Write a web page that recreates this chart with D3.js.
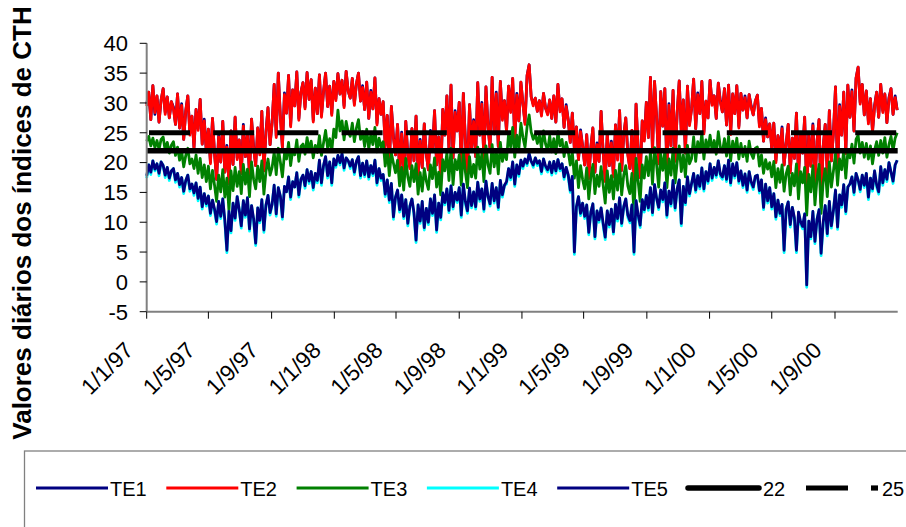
<!DOCTYPE html>
<html>
<head>
<meta charset="utf-8">
<script src="https://cdn.jsdelivr.net/npm/d3@7"></script>
<style>
  html, body { margin: 0; padding: 0; background: #fff; }
  svg { display: block; font-family: Arial, "Liberation Sans", sans-serif; }
</style>
</head>
<body>
<svg id="chart" width="906" height="527"></svg>
<script>
// Daily comfort indices, sampled every 4 days from 1 Jan 1997 (one line per year)
const startDate = "1997-01-01";
const sampleStepDays = 4;

const te1 = [
  29.8,31.8,27.2,32.9,28.1,31.2,26.8,30.5, 32.4,28.4,31.0,27.5,30.2,29.3,26.4, 31.5,25.8,29.9,23.9,28.7,31.2,24.9,27.8, 22.5,28.9,25.7,30.6,23.1,27.3,21.8, 25.6,20.1,27.4,21.5,17.2,24.6,20.1,26.9, 18.4,22.9,16.5,25.3,19.7,27.6,20.8, 23.8,18.2,26.4,21.0,24.7,17.9,27.3,22.7, 19.5,25.8,21.6,28.6,18.6,25.2,29.2,23.0, 26.7,33.1,24.5,35.0,27.8,22.6,31.7, 28.3,34.6,26.3,32.2,29.5,35.2,27.4,31.8, 33.4,29.3,35.1,30.6,33.9,27.1,32.5, 28.2,34.7,27.9,31.9,35.0,29.4,32.8,28.2,33.6,
  30.7,34.9,31.5,33.8,29.5,35.3,32.0,30.8, 34.1,29.9,33.2,35.0,30.3,32.9,28.9, 33.5,27.4,32.1,29.0,34.2,26.6,30.7,28.1, 30.2,22.9,27.9,19.5,29.4,24.4,21.3, 26.4,18.6,25.1,17.5,26.9,21.2,19.3,25.7, 20.3,27.8,17.9,23.9,19.2,26.5,21.4, 18.8,25.4,22.0,28.7,19.6,24.3,17.5,28.9, 24.6,31.2,22.4,33.0,20.8,28.7,25.3,30.1, 19.4,31.6,23.8,17.8,29.7,22.4,27.2, 21.0,33.4,24.6,30.1,20.5,32.7,26.2,22.3, 34.3,24.8,31.8,22.7,33.6,27.4,30.4, 25.2,32.8,28.7,34.1,23.6,31.6,27.0,33.5,
  29.8,26.7,34.6,36.4,31.0,29.8,30.8,28.6, 30.4,28.1,31.6,29.1,28.3,30.5,27.4, 31.2,26.8,33.1,28.8,30.7,25.9,29.7,27.2, 23.4,28.3,22.4,26.0,20.5,25.5,22.8, 19.6,24.7,17.6,22.5,25.8,18.4,23.3,20.2, 28.6,21.7,17.1,24.9,19.5,23.6,17.6, 26.3,20.7,28.7,18.7,24.5,27.5,21.5,19.0, 25.4,15.2,29.8,22.6,17.5,27.0,23.9,30.1, 24.2,34.3,22.0,33.6,27.5,20.1,31.9, 26.1,32.4,18.5,29.9,22.8,32.1,20.5,28.4, 33.7,25.2,30.5,21.6,32.8,26.5,29.0, 34.0,25.7,31.7,28.2,33.6,25.1,30.3,27.5,
  33.8,29.9,31.2,27.4,33.3,30.4,28.5,32.4, 26.3,33.0,25.0,31.5,28.2,32.9,26.1, 31.6,28.8,31.2,27.5,31.4,29.5,28.0,30.3, 31.3,26.3,29.1,23.6,27.5,24.3,26.5, 22.4,26.6,20.3,24.5,21.8,26.0,19.6,23.2, 26.4,18.6,24.1,20.7,28.3,17.8,25.0, 21.6,27.6,15.4,24.8,19.4,26.5,16.7,23.5, 27.2,13.3,22.6,26.4,18.2,28.7,20.3,25.1, 32.7,18.2,29.7,24.6,31.8,21.8,33.0, 27.6,32.2,25.3,34.2,36.0,30.1,33.1,28.0, 32.0,26.8,30.7,25.2,29.6,31.8,27.6, 33.1,28.7,31.5,26.7,30.9,32.4,28.1,31.2,28.8
];

const te2 = [
  29.5,31.8,27.2,32.9,28.4,31.2,26.8,30.5, 32.4,28.1,31.0,27.5,30.2,29.0,26.4, 31.5,25.8,29.6,23.9,28.7,31.2,24.6,27.8, 22.5,28.9,25.4,30.6,23.1,27.0,21.8, 25.6,19.8,27.4,21.5,17.2,24.3,20.1,26.9, 18.4,22.6,16.5,25.3,19.7,27.6,20.5, 23.8,18.2,26.1,21.0,24.7,17.9,27.3,22.4, 19.5,25.8,21.3,28.6,18.6,24.9,29.2,23.0, 26.7,33.1,24.2,35.0,27.8,22.6,31.4, 28.3,34.6,26.0,32.2,29.5,35.2,27.1,31.8, 33.4,29.0,35.1,30.6,33.9,26.8,32.5, 28.2,34.7,27.6,31.9,35.0,29.4,32.8,27.9,33.6,
  30.4,34.9,31.5,33.8,29.2,35.3,32.0,30.8, 34.1,29.6,33.2,35.0,30.3,32.6,28.9, 33.5,27.4,31.8,29.0,34.2,26.3,30.7,28.1, 30.2,22.6,27.9,19.5,29.4,24.1,21.3, 26.4,18.6,24.8,17.5,26.9,21.2,19.0,25.7, 20.3,27.8,17.9,23.6,19.2,26.5,21.4, 18.8,25.1,22.0,28.7,19.6,24.3,17.2,28.9, 24.6,31.2,22.1,33.0,20.8,28.4,25.3,30.1, 19.4,31.6,23.5,17.8,29.7,22.4,26.9, 21.0,33.4,24.6,29.8,20.5,32.7,25.9,22.3, 34.3,24.8,31.5,22.7,33.6,27.1,30.4, 25.2,32.8,28.4,34.1,23.6,31.3,27.0,33.5,
  29.8,26.4,34.6,36.4,31.0,29.5,30.8,28.6, 30.4,27.8,31.6,29.1,28.0,30.5,27.4, 31.2,26.8,33.1,28.5,30.7,25.9,29.4,27.2, 23.4,28.3,22.1,26.0,20.5,25.2,22.8, 19.6,24.7,17.3,22.5,25.8,18.4,23.0,20.2, 28.6,21.7,16.8,24.9,19.5,23.3,17.6, 26.3,20.4,28.7,18.7,24.5,27.5,21.2,19.0, 25.4,15.2,29.8,22.3,17.5,27.0,23.6,30.1, 24.2,34.3,21.7,33.6,27.5,19.8,31.9, 26.1,32.4,18.5,29.6,22.8,32.1,20.2,28.4, 33.7,24.9,30.5,21.6,32.8,26.2,29.0, 34.0,25.7,31.4,28.2,33.6,24.8,30.3,27.5,
  33.8,29.6,31.2,27.4,33.3,30.1,28.5,32.4, 26.3,33.0,24.7,31.5,28.2,32.9,25.8, 31.6,28.8,30.9,27.5,31.4,29.2,28.0,30.3, 31.3,26.0,29.1,23.6,27.2,24.3,26.5, 22.4,26.6,20.0,24.5,21.8,25.7,19.6,23.2, 26.4,18.3,24.1,20.7,28.3,17.5,25.0, 21.6,27.6,15.1,24.8,19.4,26.2,16.7,23.5, 27.2,13.0,22.6,26.4,17.9,28.7,20.3,24.8, 32.7,18.2,29.4,24.6,31.8,21.5,33.0, 27.6,31.9,25.3,34.2,36.0,29.8,33.1,28.0, 32.0,26.5,30.7,25.2,29.3,31.8,27.6, 33.1,28.4,31.5,26.7,30.6,32.4,28.1,30.9,28.8
];

const te3 = [
  23.6,24.4,22.8,24.1,22.5,23.7,22.2,23.9, 24.3,22.0,23.4,21.6,22.9,23.5,21.2, 22.6,20.4,21.9,19.3,21.2,22.4,19.8,20.6, 19.0,21.3,18.2,20.7,17.5,19.6,16.8, 19.4,15.6,18.7,16.2,13.5,17.9,15.1,18.8, 14.2,17.4,12.0,18.6,15.3,19.2,16.0, 18.5,14.8,19.7,16.4,18.9,14.3,20.1,17.2, 15.6,19.4,16.8,20.3,14.7,18.5,20.6,17.9, 19.2,21.8,18.0,22.4,20.1,17.6,21.5, 20.6,23.4,19.5,22.1,21.3,23.8,20.2,22.7, 23.1,21.4,24.2,22.0,23.6,20.8,22.9, 21.7,24.5,21.2,23.3,25.4,22.4,24.0,21.9,25.6,
  24.2,28.8,25.3,27.0,23.8,26.9,25.1,24.4, 26.6,23.5,25.8,27.2,23.9,25.2,22.7, 25.6,22.3,24.7,23.0,25.9,21.8,24.1,22.6, 23.5,19.4,22.2,17.8,21.6,19.9,18.3, 20.4,16.1,19.2,15.4,20.7,17.6,16.0,19.5, 16.8,19.8,14.7,18.3,15.2,19.0,16.9, 15.5,19.6,17.3,20.8,15.9,18.4,14.6,20.5, 18.6,21.7,17.0,22.4,16.3,20.5,18.8,21.3, 16.2,21.9,18.4,15.8,21.0,17.6,19.7, 17.4,22.6,18.9,21.5,16.8,22.8,19.6,18.2, 23.0,19.3,22.1,18.1,23.4,20.2,21.8, 20.5,24.8,22.6,25.9,20.9,24.6,22.3,26.6,
  24.2,22.6,26.0,28.0,25.1,23.9,24.8,23.2, 24.6,22.4,25.3,23.1,22.0,24.5,21.8, 24.0,21.5,25.2,22.8,23.9,21.0,23.4,21.9, 19.6,21.8,17.4,20.3,15.8,19.5,17.2, 15.6,19.1,13.9,17.5,19.7,14.8,17.9,16.0, 19.3,16.2,13.2,18.6,15.0,17.8,13.9, 18.7,15.4,19.8,14.6,17.9,19.5,16.1,14.8, 18.2,11.2,20.7,16.9,13.5,19.6,17.4,21.0, 17.8,21.9,16.4,22.5,19.6,15.9,21.4, 18.7,22.0,15.8,20.6,17.9,22.4,16.6,20.1, 22.8,18.5,21.3,17.6,22.9,19.8,20.7, 24.3,20.2,23.5,21.7,25.0,20.6,23.8,22.1,
  24.6,22.0,23.7,21.4,25.2,22.6,21.8,24.0, 21.1,24.4,20.3,23.6,21.7,24.1,20.6, 23.2,21.0,22.7,20.2,23.6,21.5,20.7,22.4, 22.6,19.4,21.3,18.2,20.5,18.9,20.0, 17.6,20.2,15.8,19.0,16.7,19.6,15.2,18.1, 19.4,14.6,18.2,16.1,19.8,13.9,18.5, 16.6,19.2,11.2,18.0,15.1,19.5,12.9,17.3, 19.7,11.5,16.8,19.0,14.3,20.1,15.9,18.6, 21.5,16.2,20.6,18.8,22.0,17.4,21.9, 20.8,23.1,19.9,23.9,24.6,21.6,23.4,20.9, 23.2,20.6,22.8,19.8,22.1,23.5,21.2, 23.7,21.6,24.2,20.9,23.0,24.4,22.0,24.1,25.0
];

const te4 = [
  17.4,19.6,18.0,20.3,18.6,19.8,17.8,20.1, 19.5,17.5,19.2,17.0,18.6,19.0,16.7, 18.2,15.9,17.5,14.8,17.0,17.9,15.2,16.4, 14.5,16.6,13.6,15.9,12.2,14.8,12.7, 14.4,11.1,13.7,11.8,9.7,13.5,10.6,13.9, 10.0,4.9,11.8,8.2,13.2,10.3,14.3, 12.1,9.0,13.6,10.8,14.1,8.5,12.8,10.2, 6.1,12.4,9.9,13.8,8.3,12.9,14.5,11.2, 13.0,16.2,11.0,15.8,14.4,10.5,16.0, 15.1,17.6,13.8,16.8,15.9,18.3,14.2,17.2, 17.9,15.7,18.8,16.5,18.5,15.4,18.2, 16.6,20.4,16.2,19.5,21.0,17.4,20.1,16.2,20.6,
  19.2,21.2,19.6,21.5,18.7,20.8,20.3,19.0, 20.5,18.0,20.2,21.0,17.4,19.9,17.6, 20.3,17.2,19.5,17.8,20.4,16.2,19.0,17.0, 18.0,14.3,17.1,13.3,16.5,10.5,14.2, 15.4,11.7,14.6,10.6,13.8,9.4,12.7,13.9, 11.2,6.6,12.9,9.8,13.5,8.7,12.3, 9.6,13.9,11.1,14.6,8.3,13.2,10.4,14.9, 12.9,15.6,11.6,16.1,12.2,15.0,13.3,15.8, 10.8,16.4,13.1,11.5,15.7,12.4,15.1, 12.2,16.7,13.5,15.6,11.8,16.9,14.3,12.7, 16.5,13.2,15.8,12.1,17.0,14.2,16.2, 16.4,19.0,17.1,20.1,16.0,19.6,17.7,20.4,
  19.0,20.6,19.5,21.5,20.2,19.2,20.8,19.5, 20.3,18.1,20.6,19.0,18.4,20.1,17.9, 20.2,18.2,20.5,18.6,19.8,17.2,19.2,17.6, 15.0,17.7,4.6,12.6,14.3,11.1,13.2, 10.6,12.9,7.9,11.7,13.1,7.2,11.9,10.0, 12.4,9.4,7.1,11.9,9.2,12.2,8.0, 13.0,10.2,14.1,9.4,12.6,13.9,10.8,9.9, 12.9,4.6,13.6,10.9,9.1,13.8,11.7,14.5, 12.0,15.8,11.2,16.3,14.0,12.1,15.4, 13.4,16.6,10.8,15.2,12.7,17.0,12.0,15.6, 17.1,9.4,16.0,12.9,17.6,14.4,16.5, 18.2,15.0,17.8,15.6,19.1,15.2,18.5,16.5,
  19.8,17.0,19.2,17.5,20.3,17.7,17.2,19.5, 16.8,20.4,16.2,19.8,17.4,20.0,16.5, 18.6,15.8,18.1,15.0,18.5,16.4,15.5,17.7, 17.9,14.9,17.1,12.1,16.4,13.2,15.8, 12.2,14.8,10.5,13.7,11.1,13.0,4.9,12.2, 13.4,9.2,12.5,10.4,4.9,11.7,9.7, 8.9,11.4,-0.9,10.2,7.2,11.8,6.4,10.5, 12.1,4.4,9.6,12.8,7.7,13.5,9.0,12.0, 15.4,8.8,14.6,12.5,16.3,11.4,15.9, 16.4,17.6,14.6,18.2,17.1,15.1,17.9,15.8, 18.2,13.8,17.4,15.2,18.6,15.9,14.7, 19.3,16.2,18.8,16.8,20.0,18.4,16.5,19.6,20.4
];

const te5 = [
  17.8,19.6,18.4,20.3,18.9,19.8,18.2,20.1, 19.5,17.9,19.2,17.4,18.6,19.0,17.1, 18.2,16.3,17.5,15.2,17.0,17.9,15.6,16.4, 14.9,16.6,14.0,15.9,12.6,14.8,13.1, 14.4,11.5,13.7,12.2,10.1,13.5,11.0,13.9, 10.4,5.3,11.8,8.6,13.2,10.7,14.3, 12.1,9.4,13.6,11.2,14.1,8.9,12.8,10.6, 6.5,12.4,10.3,13.8,8.7,12.9,14.5,11.6, 13.0,16.2,11.4,15.8,14.4,10.9,16.0, 15.1,17.6,14.2,16.8,15.9,18.3,14.6,17.2, 17.9,16.1,18.8,16.9,18.5,15.8,18.2, 17.0,20.4,16.6,19.5,21.0,17.8,20.1,16.6,20.6,
  19.6,21.2,20.0,21.5,19.1,20.8,20.3,19.4, 20.5,18.4,20.2,21.0,17.8,19.9,18.0, 20.3,17.6,19.5,18.2,20.4,16.6,19.0,17.4, 18.0,14.7,17.1,13.7,16.5,10.9,14.2, 15.4,12.1,14.6,11.0,13.8,9.8,12.7,13.9, 11.6,7.0,12.9,10.2,13.5,9.1,12.3, 10.0,13.9,11.5,14.6,8.7,13.2,10.8,14.9, 13.3,15.6,12.0,16.1,12.6,15.0,13.7,15.8, 11.2,16.4,13.5,11.9,15.7,12.8,15.1, 12.6,16.7,13.9,15.6,12.2,16.9,14.3,13.1, 16.5,13.6,15.8,12.5,17.0,14.6,16.2, 16.8,19.0,17.5,20.1,16.4,19.6,18.1,20.4,
  19.4,20.6,19.9,21.5,20.2,19.6,20.8,19.9, 20.3,18.5,20.6,19.4,18.8,20.1,18.3, 20.2,18.6,20.5,19.0,19.8,17.6,19.2,18.0, 15.4,17.7,5.0,12.6,14.3,11.5,13.2, 11.0,12.9,8.3,11.7,13.1,7.6,11.9,10.4, 12.4,9.8,7.5,11.9,9.6,12.2,8.4, 13.0,10.6,14.1,9.8,12.6,13.9,11.2,10.3, 12.9,5.0,13.6,11.3,9.5,13.8,12.1,14.5, 12.4,15.8,11.6,16.3,14.0,12.5,15.4, 13.8,16.6,11.2,15.2,13.1,17.0,12.4,15.6, 17.1,9.8,16.0,13.3,17.6,14.8,16.5, 18.2,15.4,17.8,16.0,19.1,15.6,18.5,16.9,
  19.8,17.4,19.2,17.9,20.3,18.1,17.6,19.5, 17.2,20.4,16.6,19.8,17.8,20.0,16.9, 18.6,16.2,18.1,15.4,18.5,16.8,15.9,17.7, 17.9,15.3,17.1,12.5,16.4,13.6,15.8, 12.6,14.8,10.9,13.7,11.5,13.0,5.3,12.2, 13.4,9.6,12.5,10.8,5.3,11.7,10.1, 9.3,11.4,-0.5,10.2,7.6,11.8,6.8,10.5, 12.1,4.8,10.0,12.8,8.1,13.5,9.4,12.0, 15.4,9.2,14.6,12.9,16.3,11.8,15.9, 16.4,17.6,15.0,18.2,17.1,15.5,17.9,16.2, 18.2,14.2,17.4,15.6,18.6,16.3,15.1, 19.3,16.6,18.8,17.2,20.0,18.4,16.9,19.6,20.4
];

// Reference levels drawn as horizontal lines
const refLevels = [22, 25];

const seriesNames = ["TE1", "TE2", "TE3", "TE4", "TE5"];
const seriesColors = ["#000080", "#ff0000", "#008000", "#00ffff", "#000080"];

const yTicks = [-5, 0, 5, 10, 15, 20, 25, 30, 35, 40];
const xTickDates = ["1997-01-01", "1997-05-01", "1997-09-01", "1998-01-01", "1998-05-01", "1998-09-01",
                    "1999-01-01", "1999-05-01", "1999-09-01", "2000-01-01", "2000-05-01", "2000-09-01"];
const xTickLabels = ["1/1/97", "1/5/97", "1/9/97", "1/1/98", "1/5/98", "1/9/98",
                     "1/1/99", "1/5/99", "1/9/99", "1/1/00", "1/5/00", "1/9/00"];
const xDomain = ["1997-01-01", "2001-01-01"];

const yTitle = "Valores diários dos índices de CTH";

// ---- layout ----
const plot = { left: 146.7, right: 897.7, top: 43.3, bottom: 311.7 };
const svg = d3.select("#chart");

const parse = d3.utcParse("%Y-%m-%d");
const x = d3.scaleUtc().domain(xDomain.map(parse)).range([plot.left, plot.right]);
const y = d3.scaleLinear().domain([-5, 40]).range([plot.bottom, plot.top]);

const t0 = parse(startDate);
const seriesData = [te1, te2, te3, te4, te5].map(vals =>
  vals.map((v, i) => ({ date: d3.utcDay.offset(t0, i * sampleStepDays), value: v })));

// ---- series lines ----
const line = d3.line().x(d => x(d.date)).y(d => y(d.value));
svg.append("g").selectAll("path")
  .data(seriesData)
  .join("path")
  .attr("d", line)
  .attr("fill", "none")
  .attr("stroke", (d, i) => seriesColors[i])
  .attr("stroke-width", 2.8)
  .attr("stroke-linejoin", "round");

// ---- reference lines (22 solid, 25 dashed) ----
svg.append("line")
  .attr("x1", plot.left).attr("x2", plot.right)
  .attr("y1", y(refLevels[0])).attr("y2", y(refLevels[0]))
  .attr("stroke", "#000").attr("stroke-width", 5.5);
svg.append("line")
  .attr("x1", plot.left).attr("x2", plot.right)
  .attr("y1", y(refLevels[1])).attr("y2", y(refLevels[1]))
  .attr("stroke", "#000").attr("stroke-width", 5.2)
  .attr("stroke-dasharray", "41 23.2")
  .attr("stroke-dashoffset", 61.9);

// ---- y axis ----
const yAxis = svg.append("g");
yAxis.append("line")
  .attr("x1", plot.left).attr("x2", plot.left)
  .attr("y1", plot.top).attr("y2", plot.bottom)
  .attr("stroke", "#808080").attr("stroke-width", 2);
yAxis.selectAll(".yt").data(yTicks).join("line")
  .attr("x1", plot.left - 7).attr("x2", plot.left)
  .attr("y1", d => y(d)).attr("y2", d => y(d))
  .attr("stroke", "#000").attr("stroke-width", 1);
yAxis.selectAll("text").data(yTicks).join("text")
  .attr("x", 128).attr("y", d => y(d) + 7.8)
  .attr("text-anchor", "end")
  .attr("font-size", 22)
  .attr("fill", "#000")
  .text(d => d);

// ---- x axis ----
const xAxis = svg.append("g");
xAxis.append("line")
  .attr("x1", plot.left).attr("x2", plot.right)
  .attr("y1", plot.bottom).attr("y2", plot.bottom)
  .attr("stroke", "#808080").attr("stroke-width", 2);
const xTicks = xTickDates.map(parse);
xAxis.selectAll(".xt").data(xTicks).join("line")
  .attr("x1", d => x(d)).attr("x2", d => x(d))
  .attr("y1", plot.bottom).attr("y2", plot.bottom + 7)
  .attr("stroke", "#000").attr("stroke-width", 1);
xAxis.selectAll("text").data(xTicks).join("text")
  .attr("transform", d => `translate(${x(d) - 12},${plot.bottom + 40}) rotate(-45)`)
  .attr("text-anchor", "end")
  .attr("font-size", 22.5)
  .attr("fill", "#000")
  .text((d, i) => xTickLabels[i]);

// ---- y title ----
svg.append("text")
  .attr("transform", "translate(31,223) rotate(-90)")
  .attr("text-anchor", "middle")
  .attr("font-size", 26)
  .attr("font-weight", "bold")
  .attr("fill", "#000")
  .text(yTitle);

// ---- legend ----
const legend = svg.append("g");
legend.append("rect")
  .attr("x", 24.5).attr("y", 451)
  .attr("width", 900).attr("height", 120)
  .attr("fill", "#fff").attr("stroke", "#808080").attr("stroke-width", 1.3);

const legendY = 488;
const itemStep = 130.3;
seriesNames.forEach((name, i) => {
  const x0 = 36 + i * itemStep;
  legend.append("line")
    .attr("x1", x0).attr("x2", x0 + 72)
    .attr("y1", legendY).attr("y2", legendY)
    .attr("stroke", seriesColors[i]).attr("stroke-width", 3);
  legend.append("text")
    .attr("x", x0 + 74).attr("y", legendY + 7.5)
    .attr("font-size", 20).attr("fill", "#000")
    .text(name);
});
// level 22 sample
const x22 = 686;
legend.append("line")
  .attr("x1", x22 + 2).attr("x2", x22 + 73)
  .attr("y1", legendY).attr("y2", legendY)
  .attr("stroke", "#000").attr("stroke-width", 5.5).attr("stroke-linecap", "round");
legend.append("text")
  .attr("x", x22 + 77).attr("y", legendY + 7.5)
  .attr("font-size", 20).attr("fill", "#000")
  .text(String(refLevels[0]));
// level 25 sample
legend.append("line")
  .attr("x1", 806).attr("x2", 848)
  .attr("y1", legendY).attr("y2", legendY)
  .attr("stroke", "#000").attr("stroke-width", 5.2);
legend.append("line")
  .attr("x1", 871).attr("x2", 878)
  .attr("y1", legendY).attr("y2", legendY)
  .attr("stroke", "#000").attr("stroke-width", 5.2);
legend.append("text")
  .attr("x", 882).attr("y", legendY + 7.5)
  .attr("font-size", 20).attr("fill", "#000")
  .text(String(refLevels[1]));
</script>
</body>
</html>
